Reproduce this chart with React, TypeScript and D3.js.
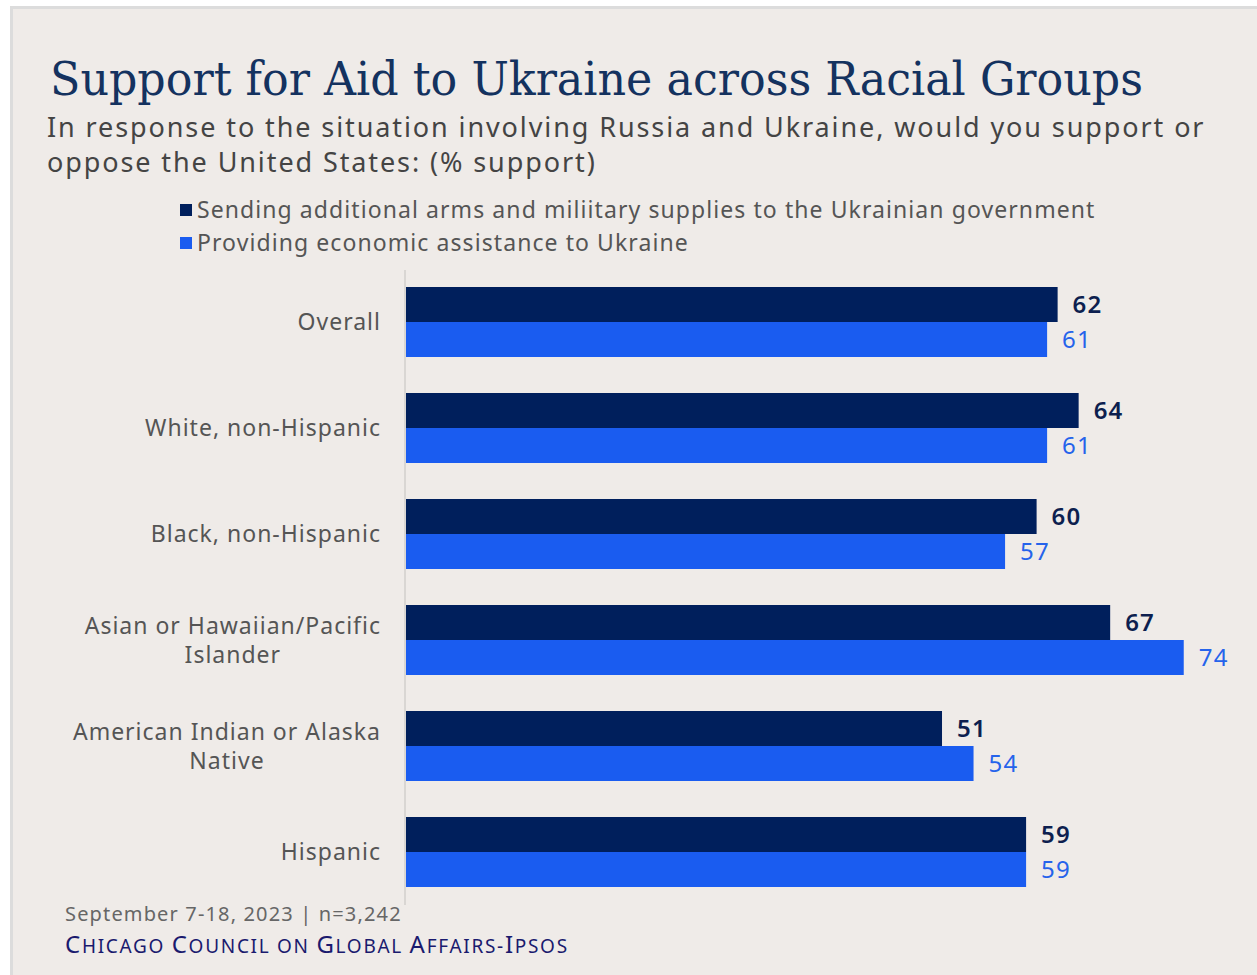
import React, { useEffect, useRef } from "react";
import * as d3 from "d3";

const categories: string[][] = [
  ["Overall"],
  ["White, non-Hispanic"],
  ["Black, non-Hispanic"],
  ["Asian or Hawaiian/Pacific", "Islander"],
  ["American Indian or Alaska", "Native"],
  ["Hispanic"],
];
const armsValues = [62, 64, 60, 67, 51, 59];
const economicValues = [61, 61, 57, 74, 54, 59];
const seriesNames = [
  "Sending additional arms and miliitary supplies to the Ukrainian government",
  "Providing economic assistance to Ukraine",
];
const title = "Support for Aid to Ukraine across Racial Groups";
const subtitleLines = [
  "In response to the situation involving Russia and Ukraine, would you support or",
  "oppose the United States: (% support)",
];
const footerNote = "September 7-18, 2023 | n=3,242";
const sourceText = "Chicago Council on Global Affairs-Ipsos";

const W = 1257;
const H = 975;
const BG = "#efebe8";
const DARK = "#001f5c";
const BLUE = "#1a5cf0";
const SANS = "'Noto Sans', 'Open Sans', sans-serif";

export default function App() {
  const ref = useRef<SVGSVGElement | null>(null);

  useEffect(() => {
    document.body.style.margin = "0";
    const svg = d3.select(ref.current);
    svg.selectAll("*").remove();

    svg.append("rect").attr("width", W).attr("height", H).attr("fill", "#ffffff");
    svg
      .append("rect")
      .attr("x", 11.5)
      .attr("y", 7.5)
      .attr("width", W)
      .attr("height", H)
      .attr("fill", BG)
      .attr("stroke", "#dcdcdc")
      .attr("stroke-width", 3);

    svg
      .append("text")
      .attr("x", 50)
      .attr("y", 95)
      .attr("font-family", "'DejaVu Serif', Georgia, serif")
      .attr("font-size", 47)
      .attr("fill", "#14325f")
      .attr("textLength", 1093)
      .attr("lengthAdjust", "spacingAndGlyphs")
      .text(title);

    subtitleLines.forEach((s, i) => {
      svg
        .append("text")
        .attr("x", 47)
        .attr("y", 137 + i * 35)
        .attr("font-family", SANS)
        .attr("font-size", 27)
        .attr("letter-spacing", 1.9)
        .attr("fill", "#444444")
        .text(s);
    });

    const colors = [DARK, BLUE];
    seriesNames.forEach((s, i) => {
      const g = svg.append("g").attr("transform", `translate(0, ${210 + i * 33})`);
      g.append("rect").attr("x", 180).attr("y", -6).attr("width", 12).attr("height", 12).attr("fill", colors[i]);
      g.append("text")
        .attr("x", 197)
        .attr("y", 0)
        .attr("dy", "0.35em")
        .attr("font-family", SANS)
        .attr("font-size", 23)
        .attr("letter-spacing", 1.08)
        .attr("fill", "#555555")
        .text(s);
    });

    const x = d3.scaleLinear().domain([0, 100]).range([406, 1457]);
    const keys = categories.map((c) => c.join(" "));
    const y = d3.scaleBand().domain(keys).range([287, 887]).paddingInner(36 / 106).paddingOuter(0);
    const ySub = d3.scaleBand().domain(["arms", "econ"]).range([0, y.bandwidth()]);

    svg
      .append("line")
      .attr("x1", 405)
      .attr("x2", 405)
      .attr("y1", 270)
      .attr("y2", 905)
      .attr("stroke", "#d9d6d3")
      .attr("stroke-width", 2);

    const series = [
      { key: "arms", values: armsValues, color: DARK, labelColor: "#0d1f4f", weight: 600 },
      { key: "econ", values: economicValues, color: BLUE, labelColor: "#2563eb", weight: 400 },
    ];

    series.forEach((s) => {
      keys.forEach((k, i) => {
        const y0 = (y(k) as number) + (ySub(s.key) as number);
        svg
          .append("rect")
          .attr("x", x(0))
          .attr("y", y0)
          .attr("width", x(s.values[i]) - x(0))
          .attr("height", ySub.bandwidth())
          .attr("fill", s.color);
        svg
          .append("text")
          .attr("x", x(s.values[i]) + 15)
          .attr("y", y0 + ySub.bandwidth() / 2)
          .attr("dy", "0.35em")
          .attr("font-family", SANS)
          .attr("font-size", 24)
          .attr("letter-spacing", 1.2)
          .attr("font-weight", s.weight)
          .attr("fill", s.labelColor)
          .text(s.values[i]);
      });
    });

    categories.forEach((lines, i) => {
      const k = keys[i];
      const cy = (y(k) as number) + y.bandwidth() / 2;
      const g = svg.append("g");
      const texts = lines.map((l, j) =>
        g
          .append("text")
          .attr("y", cy + (j - (lines.length - 1) / 2) * 29)
          .attr("dy", "0.35em")
          .attr("font-family", SANS)
          .attr("font-size", 23)
          .attr("letter-spacing", 1)
          .attr("fill", "#555555")
          .attr("text-anchor", "middle")
          .text(l)
      );
      const widths = texts.map((t) => (t.node() as SVGTextElement).getComputedTextLength());
      const maxW = Math.max(...widths);
      const center = 381 - maxW / 2;
      texts.forEach((t) => t.attr("x", center));
    });

    svg
      .append("text")
      .attr("x", 65)
      .attr("y", 921)
      .attr("font-family", SANS)
      .attr("font-size", 20)
      .attr("letter-spacing", 1.15)
      .attr("fill", "#666666")
      .text(footerNote);

    const src = svg
      .append("text")
      .attr("x", 65)
      .attr("y", 953)
      .attr("font-family", SANS)
      .attr("letter-spacing", 1.7)
      .attr("fill", "#1a1a6e");
    sourceText.split("").forEach((ch) => {
      const isUpper = ch !== ch.toLowerCase();
      src
        .append("tspan")
        .attr("font-size", isUpper ? 24 : 19)
        .text(ch.toUpperCase());
    });
  }, []);

  return <svg ref={ref} width={W} height={H} style={{ display: "block" }} />;
}
